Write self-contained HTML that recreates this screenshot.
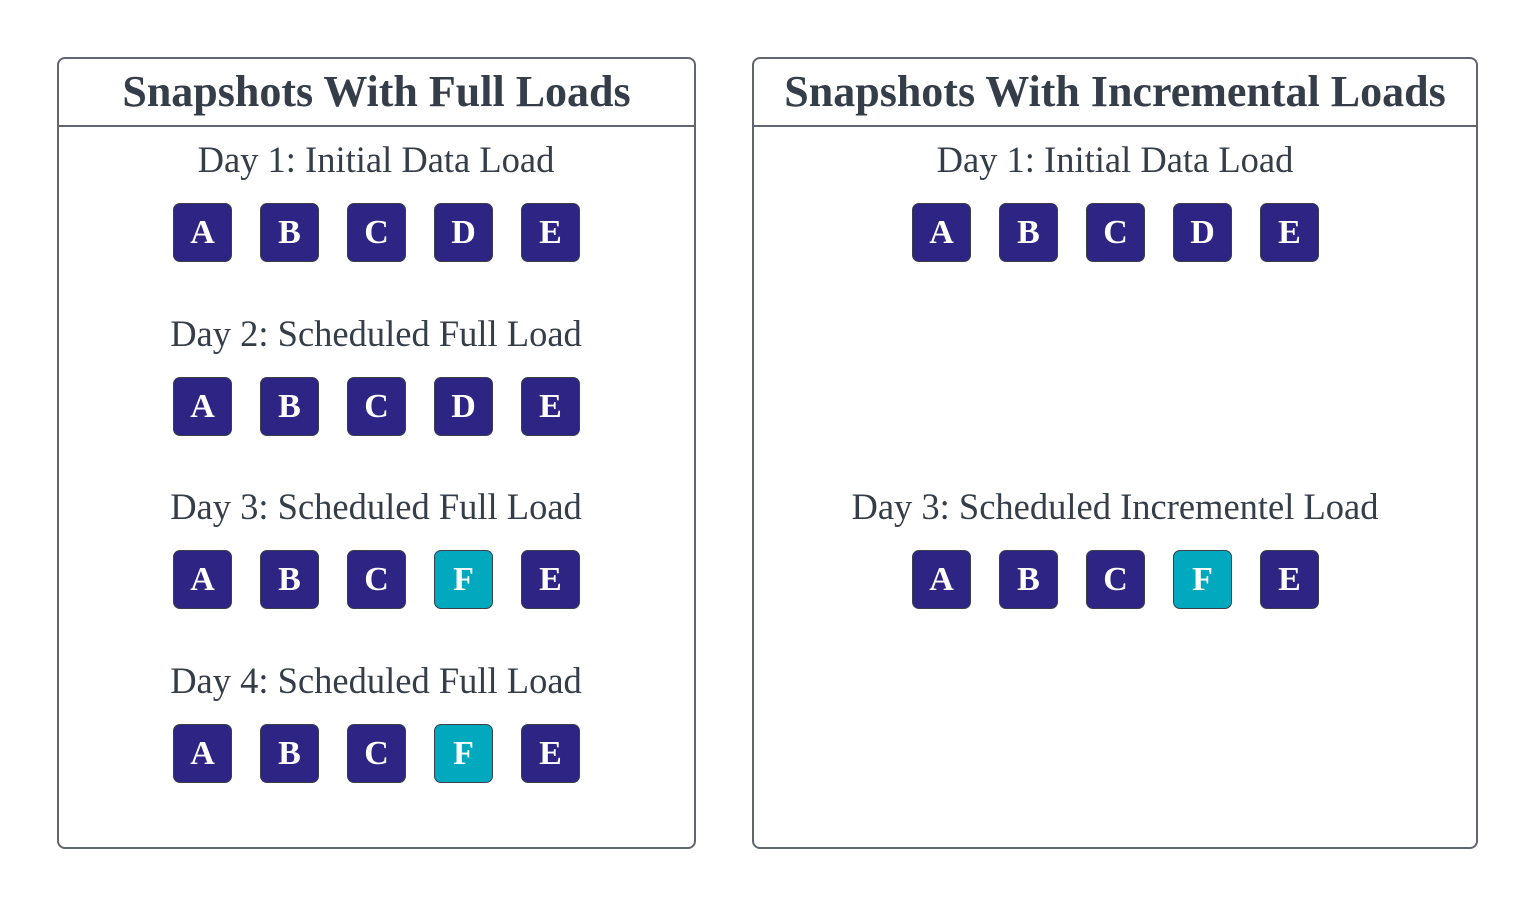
<!DOCTYPE html><html><head><style>
body{margin:0;width:1536px;height:906px;background:#fff;font-family:"Liberation Serif",serif;color:#353d49;position:relative;overflow:hidden}
.p{position:absolute;border:2px solid #5f6670;border-radius:8px;box-sizing:border-box}
.h{position:absolute;left:0;right:0;top:0;height:66px;border-bottom:2px solid #5f6670;text-align:center;font-weight:bold;font-size:44px;line-height:66px}
.l{position:absolute;font-size:36.5px;text-align:center;width:800px;line-height:40px}
.b{position:absolute;width:59px;height:59px;border:1.5px solid #3a3f4a;box-sizing:border-box;border-radius:7px;background:#2e2483;color:#fff;font-weight:bold;font-size:34px;text-align:center;line-height:57px}
.f{background:#00a9bd}
</style></head><body>
<div class="p" style="left:57px;top:57px;width:639px;height:792px"><div class="h">Snapshots With Full Loads</div></div>
<div class="p" style="left:752px;top:57px;width:726px;height:792px"><div class="h">Snapshots With Incremental Loads</div></div>
<div id="c"></div>
<script>
var c=document.getElementById('c'),h='';
function row(cx,y,lab,fi){h+='<div class="l" style="left:'+(cx-400)+'px;top:'+(y-63)+'px">'+lab+'</div>';
['A','B','C',fi?'F':'D','E'].forEach(function(t,i){h+='<div class="b'+(t=='F'?' f':'')+'" style="left:'+(cx-203+i*87)+'px;top:'+y+'px">'+t+'</div>'})}
row(376,203,'Day 1: Initial Data Load',0);
row(376,377,'Day 2: Scheduled Full Load',0);
row(376,550,'Day 3: Scheduled Full Load',1);
row(376,724,'Day 4: Scheduled Full Load',1);
row(1115,203,'Day 1: Initial Data Load',0);
row(1115,550,'Day 3: Scheduled Incrementel Load',1);
c.innerHTML=h;
</script>
</body></html>
